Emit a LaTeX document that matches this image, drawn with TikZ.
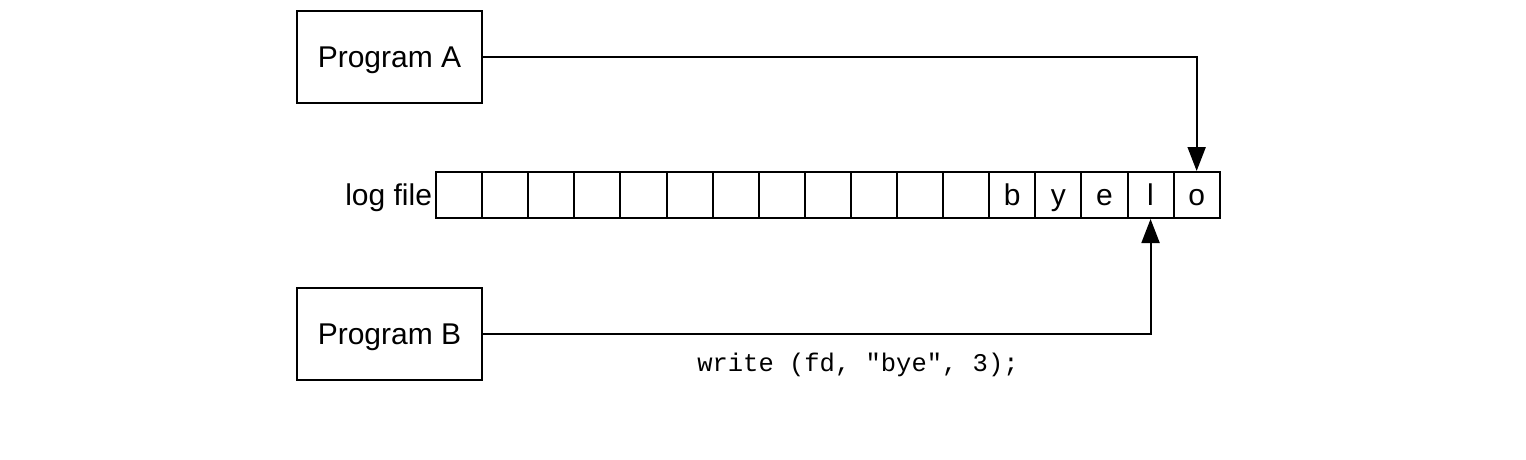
\documentclass[tikz,border=0pt]{standalone}
\usepackage{fontspec}
\setmainfont{Liberation Sans}
\setmonofont{Liberation Mono}
\usetikzlibrary{arrows.meta}
\begin{document}
\begin{tikzpicture}[x=1pt,y=-1pt,line width=2pt,
  lbl/.style={font=\fontsize{30}{34}\selectfont,text height=22pt,text depth=2pt},
  prog/.style={draw,lbl,minimum width=185pt,minimum height=92pt,inner sep=0pt},
  cell/.style={draw,lbl,minimum width=46.1pt,minimum height=46pt,inner sep=0pt},
  arr/.style={-{Triangle[length=24pt,width=18pt]}}]
\useasboundingbox (0,0) rectangle (1526,460);
\node[prog] (A) at (389.5,57) {Program A};
\node[prog] (B) at (389.5,334) {Program B};
\foreach \i/\t in {0/,1/,2/,3/,4/,5/,6/,7/,8/,9/,10/,11/,12/b,13/y,14/e,15/l,16/o}{
  \node[cell] (c\i) at ({436+46.1*\i+23.05},195) {\t};
}
\node[lbl,anchor=east,inner sep=0pt] (lf) at (433,195) {log file};
\draw[arr] (A.east) -| (c16.north);
\draw[arr] (B.east) -| (c15.south);
\node[font=\ttfamily\fontsize{25.5}{30}\selectfont,inner sep=0pt] (w) at (858,365) {write (fd, "bye", 3);};
\end{tikzpicture}
\end{document}
